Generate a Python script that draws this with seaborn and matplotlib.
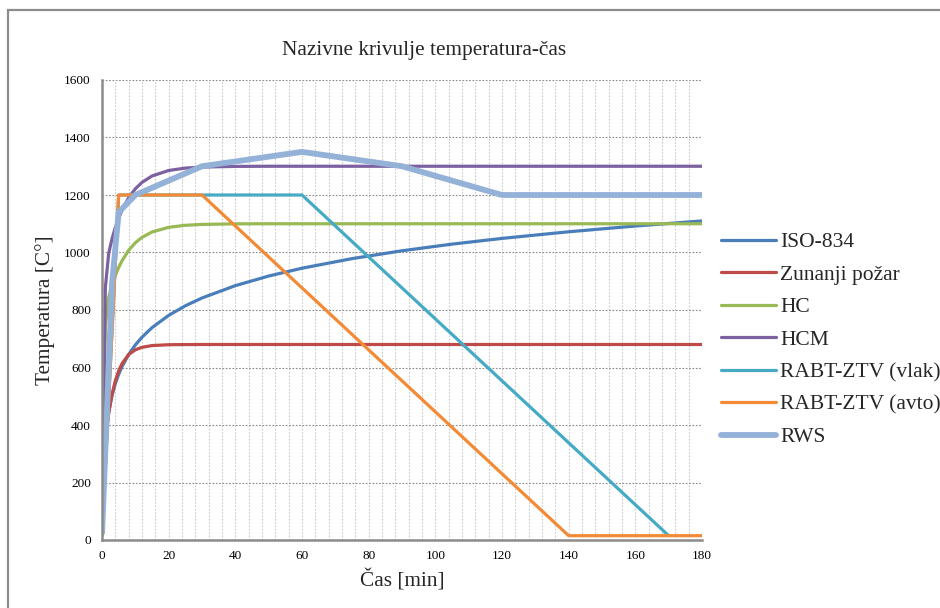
import matplotlib
matplotlib.use("Agg")
import matplotlib.pyplot as plt
import seaborn as sns
import pandas as pd
from matplotlib.patches import Rectangle

# ---------------- data ----------------
t_std = [0, 1, 2, 3, 4, 5, 6, 8, 10, 12, 15, 20, 25, 30, 40, 50, 60, 75, 90, 105, 120, 140, 160, 180]
iso834 = [20, 349.2, 444.5, 502.3, 543.9, 576.4, 603.1, 645.5, 678.4, 705.4, 738.6, 781.3, 814.6, 841.8,
          884.7, 918.1, 945.3, 978.7, 1006.0, 1029.1, 1049.0, 1072.1, 1092.1, 1109.8]
zunanji = [20, 346.2, 440.8, 506.4, 553.9, 588.5, 613.5, 645.0, 661.5, 670.2, 676.3, 679.2, 679.8, 680,
           680, 680, 680, 680, 680, 680, 680, 680, 680, 680]
hc = [20, 743.2, 843.7, 886.9, 920.1, 947.7, 971.2, 1007.7, 1033.9, 1052.7, 1071.3, 1087.6, 1094.6, 1097.7,
      1099.6, 1100, 1100, 1100, 1100, 1100, 1100, 1100, 1100, 1100]
hcm = [20, 877.1, 996.3, 1047.5, 1086.8, 1119.5, 1147.3, 1190.7, 1221.7, 1243.9, 1266.1, 1285.3, 1293.6, 1297.2,
       1299.5, 1300, 1300, 1300, 1300, 1300, 1300, 1300, 1300, 1300]
t_vlak = [0, 5, 60, 170]
rabt_vlak = [15, 1200, 1200, 15]
t_avto = [0, 5, 30, 140, 180]
rabt_avto = [15, 1200, 1200, 15, 15]
t_rws = [0, 3, 5, 10, 30, 60, 90, 120, 180]
rws = [20, 890, 1140, 1200, 1300, 1350, 1300, 1200, 1200]

labels = ["ISO-834", "Zunanji požar", "HC", "HCM", "RABT-ZTV (vlak)", "RABT-ZTV (avto)", "RWS"]
x_ticks = [0, 20, 40, 60, 80, 100, 120, 140, 160, 180]
y_ticks = [0, 200, 400, 600, 800, 1000, 1200, 1400, 1600]

series = [
    (labels[0], t_std, iso834, "#4A7EBB", 2.3),
    (labels[1], t_std, zunanji, "#BE4B48", 2.3),
    (labels[2], t_std, hc, "#98B954", 2.3),
    (labels[3], t_std, hcm, "#7D60A0", 2.3),
    (labels[4], t_vlak, rabt_vlak, "#46AAC5", 2.3),
    (labels[5], t_avto, rabt_avto, "#F38B36", 2.3),
    (labels[6], t_rws, rws, "#94B1D8", 4.2),
]

sns.set_theme(style="white")
plt.rcParams['font.family'] = ['Liberation Serif', 'DejaVu Serif']

W, H = 940, 608
fig = plt.figure(figsize=(W / 100, H / 100), dpi=100)
ax = fig.add_axes([102 / W, 1 - 540 / H, 600 / W, 460 / H])

for name, xs, ys, col, lw in series:
    df = pd.DataFrame({"t": xs, "T": ys})
    sns.lineplot(data=df, x="t", y="T", ax=ax, color=col, linewidth=lw, sort=False,
                 estimator=None, label=name, solid_joinstyle="round", solid_capstyle="butt")

ax.set_xlim(0, 180)
ax.set_ylim(0, 1600)
ax.set_xticks(x_ticks)
ax.set_yticks(y_ticks)
ax.set_xticks(list(range(0, 181, 4)), minor=True)
ax.tick_params(axis="both", which="both", length=0, labelsize=9.5, colors="black")
ax.tick_params(axis="x", pad=7)
ax.tick_params(axis="y", pad=8)

# grid
ax.grid(False)
ax.xaxis.grid(True, which="both", linestyle=(0, (1.5, 1.5)), color="#C8C8C8", linewidth=0.8)
ax.yaxis.grid(True, which="major", linestyle=(0, (1.5, 1.5)), color="#8A8A8A", linewidth=0.8)
ax.set_axisbelow(True)

for s in ["top", "right"]:
    ax.spines[s].set_visible(False)
for s in ["left", "bottom"]:
    ax.spines[s].set_color("#8C8C8C")
    ax.spines[s].set_linewidth(1.8)

ax.set_xlabel("")
ax.set_ylabel("")
fig.text(402 / W, 1 - 580 / H, "Čas [min]", ha="center", va="center", fontsize=15.3)
fig.text(45 / W, 1 - 310 / H, "Temperatura [C°]", ha="center", va="center", rotation=90, fontsize=15.3)
fig.text(424 / W, 1 - 50 / H, "Nazivne krivulje temperatura-čas", ha="center", va="center", fontsize=15.3)

handles, labs = ax.get_legend_handles_labels()
leg = ax.legend(handles, labs, loc="upper left", bbox_to_anchor=(721 / W, 1 - 232 / H),
                bbox_transform=fig.transFigure, frameon=False, fontsize=15.5,
                handlelength=2.55, handletextpad=0.2, labelspacing=0.58,
                borderpad=0, borderaxespad=0)
for h in leg.get_lines():
    h.set_solid_capstyle("round")

# chart-area frame (only top/left visible in reference)
fig.patches.append(Rectangle((8 / W, -0.2), 1.5, 1.2 - 10 / H, transform=fig.transFigure,
                             fill=False, edgecolor="#8C8C8C", linewidth=1.6, clip_on=False))

fig.savefig("out.png", dpi=100)
